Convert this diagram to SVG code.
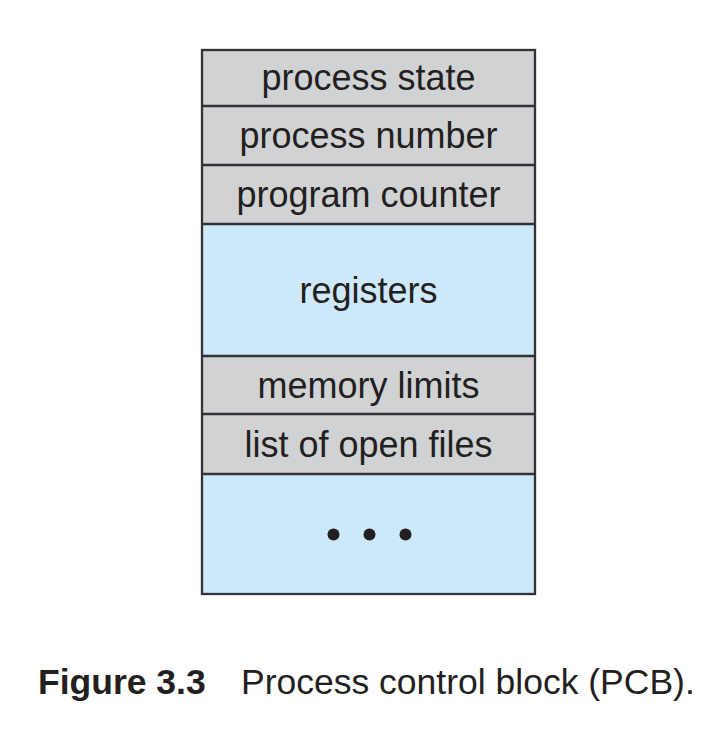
<svg xmlns="http://www.w3.org/2000/svg" width="724" height="740" viewBox="0 0 724 740">
<style>
.g{fill:#d1d2d4}
.b{fill:#cde8f9}
.t{font-family:"Liberation Sans",Arial,sans-serif;font-size:36px;fill:#231f20;text-anchor:middle}
.c{font-family:"Liberation Sans",Arial,sans-serif;font-size:35.5px;fill:#231f20}
.ln{stroke:#333335;stroke-width:2.3;fill:none}
</style>
<rect width="724" height="740" fill="#ffffff"/>
<g id="pcb">
<g id="row-process-state"><rect class="g" x="202" y="50" width="333" height="56"/><text class="t" x="368.5" y="90">process state</text></g>
<g id="row-process-number"><rect class="g" x="202" y="106" width="333" height="59"/><text class="t" x="368.5" y="148">process number</text></g>
<g id="row-program-counter"><rect class="g" x="202" y="165" width="333" height="59"/><text class="t" x="368.5" y="207">program counter</text></g>
<g id="row-registers"><rect class="b" x="202" y="224" width="333" height="132"/><text class="t" x="368.5" y="303">registers</text></g>
<g id="row-memory-limits"><rect class="g" x="202" y="356" width="333" height="58"/><text class="t" x="368.5" y="398">memory limits</text></g>
<g id="row-open-files"><rect class="g" x="202" y="414" width="333" height="60"/><text class="t" x="368.5" y="457">list of open files</text></g>
<g id="row-more"><rect class="b" x="202" y="474" width="333" height="120"/>
<circle cx="333.5" cy="534.5" r="6" fill="#231f20"/><circle cx="369.5" cy="534.5" r="6" fill="#231f20"/><circle cx="405.5" cy="534.5" r="6" fill="#231f20"/></g>
<g id="lines">
<rect class="ln" x="202" y="50" width="333" height="544"/>
<line class="ln" x1="202" y1="106" x2="535" y2="106"/>
<line class="ln" x1="202" y1="165" x2="535" y2="165"/>
<line class="ln" x1="202" y1="224" x2="535" y2="224"/>
<line class="ln" x1="202" y1="356" x2="535" y2="356"/>
<line class="ln" x1="202" y1="414" x2="535" y2="414"/>
<line class="ln" x1="202" y1="474" x2="535" y2="474"/>
</g>
</g>
<g id="caption">
<text class="c" x="38" y="694"><tspan font-weight="bold">Figure 3.3</tspan><tspan x="241">Process control block (PCB).</tspan></text>
</g>
</svg>
